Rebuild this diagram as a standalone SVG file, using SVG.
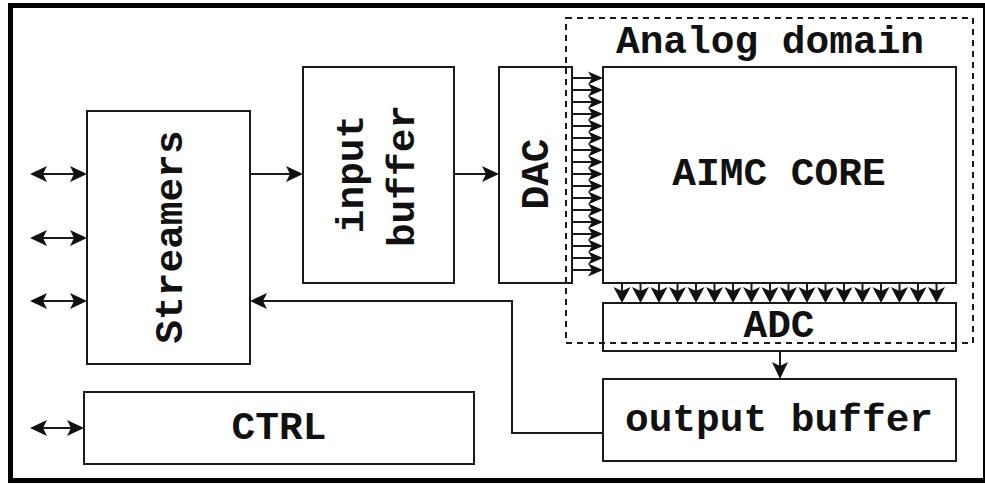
<svg xmlns="http://www.w3.org/2000/svg" xmlns:xlink="http://www.w3.org/1999/xlink" width="985" height="485" viewBox="0 0 985 485">
<style>
.box{fill:#fff;stroke:#1a1a1a;stroke-width:2}
.ln{fill:none;stroke:#1a1a1a;stroke-width:2}
.hd{fill:#111;stroke:none}
.lb{font-family:"Liberation Mono","Courier New",monospace;font-weight:bold;font-size:39.5px;fill:#111;text-anchor:middle}
</style>
<defs>
<path id="hr" d="M0,0 L-17,-8 L-13,0 L-17,8 Z"/>
<path id="hl" d="M0,0 L17,-8 L13,0 L17,8 Z"/>
<path id="hd" d="M0,0 L-8,-17 L0,-13 L8,-17 Z"/>
<path id="sh" d="M0,0 L-15,-6.5 L-11,0 L-15,6.5 Z"/>
<path id="sv" d="M0,0 L-8.5,-16 L0,-12 L8.5,-16 Z"/>
</defs>
<rect x="10.5" y="5.5" width="975" height="475" fill="#fff" stroke="#000" stroke-width="5"/>
<text class="lb" x="770" y="53">Analog domain</text>
<g id="streamers"><rect class="box" x="87" y="111" width="163" height="253"/><text class="lb" transform="translate(182,237) rotate(-90)">Streamers</text></g>
<g id="input-buffer"><rect class="box" x="303" y="67" width="151" height="216"/><text class="lb" transform="translate(363,174) rotate(-90)">input</text><text class="lb" transform="translate(414,176) rotate(-90)">buffer</text></g>
<g id="dac"><rect class="box" x="499" y="67" width="73" height="216"/><text class="lb" transform="translate(548,174) rotate(-90)">DAC</text></g>
<g id="aimc-core"><rect class="box" x="603" y="67" width="353" height="216"/><text class="lb" x="779" y="185">AIMC CORE</text></g>
<g id="adc"><rect class="box" x="603" y="303" width="353" height="48"/><text class="lb" x="779" y="337">ADC</text></g>
<g id="output-buffer"><rect class="box" x="603" y="379" width="353" height="82"/><text class="lb" x="779" y="431">output buffer</text></g>
<g id="ctrl"><rect class="box" x="84" y="392" width="390" height="72"/><text class="lb" x="279" y="439">CTRL</text></g>
<g id="analog-domain"><rect x="566" y="18" width="407" height="325" fill="none" stroke="#1a1a1a" stroke-width="2" stroke-dasharray="6 5"/></g>
<g id="connectors">
<path class="ln" d="M32,174 H85 M32,238 H85 M32,301 H85 M32,428 H82"/>
<g class="hd">
<use xlink:href="#hl" x="30" y="174"/><use xlink:href="#hr" x="87" y="174"/>
<use xlink:href="#hl" x="30" y="238"/><use xlink:href="#hr" x="87" y="238"/>
<use xlink:href="#hl" x="30" y="301"/><use xlink:href="#hr" x="87" y="301"/>
<use xlink:href="#hl" x="30" y="428"/><use xlink:href="#hr" x="84" y="428"/>
</g>
<path class="ln" d="M250,174 H300"/><use class="hd" xlink:href="#hr" x="303" y="174"/>
<path class="ln" d="M454,174 H496"/><use class="hd" xlink:href="#hr" x="499" y="174"/>
<path class="ln" d="M603,433 H512 V301 H253"/><use class="hd" xlink:href="#hl" x="250" y="301"/>
<path class="ln" d="M780,351 V376"/><use class="hd" xlink:href="#hd" x="780" y="379"/>
<path class="ln" d="M572,78 H595 M572,90 H595 M572,102 H595 M572,114 H595 M572,126 H595 M572,138 H595 M572,150 H595 M572,162 H595 M572,174 H595 M572,186 H595 M572,198 H595 M572,210 H595 M572,222 H595 M572,234 H595 M572,246 H595 M572,258 H595 M572,270 H595"/>
<g class="hd">
<use xlink:href="#sh" x="603" y="78"/><use xlink:href="#sh" x="603" y="90"/><use xlink:href="#sh" x="603" y="102"/><use xlink:href="#sh" x="603" y="114"/><use xlink:href="#sh" x="603" y="126"/><use xlink:href="#sh" x="603" y="138"/><use xlink:href="#sh" x="603" y="150"/><use xlink:href="#sh" x="603" y="162"/><use xlink:href="#sh" x="603" y="174"/><use xlink:href="#sh" x="603" y="186"/><use xlink:href="#sh" x="603" y="198"/><use xlink:href="#sh" x="603" y="210"/><use xlink:href="#sh" x="603" y="222"/><use xlink:href="#sh" x="603" y="234"/><use xlink:href="#sh" x="603" y="246"/><use xlink:href="#sh" x="603" y="258"/><use xlink:href="#sh" x="603" y="270"/>
</g>
<path class="ln" d="M622,283 V295 M640.5,283 V295 M659,283 V295 M677.5,283 V295 M696,283 V295 M714.5,283 V295 M733,283 V295 M751.5,283 V295 M770,283 V295 M788.5,283 V295 M807,283 V295 M825.5,283 V295 M844,283 V295 M862.5,283 V295 M881,283 V295 M899.5,283 V295 M918,283 V295 M936.5,283 V295"/>
<g class="hd">
<use xlink:href="#sv" x="622" y="303"/><use xlink:href="#sv" x="640.5" y="303"/><use xlink:href="#sv" x="659" y="303"/><use xlink:href="#sv" x="677.5" y="303"/><use xlink:href="#sv" x="696" y="303"/><use xlink:href="#sv" x="714.5" y="303"/><use xlink:href="#sv" x="733" y="303"/><use xlink:href="#sv" x="751.5" y="303"/><use xlink:href="#sv" x="770" y="303"/><use xlink:href="#sv" x="788.5" y="303"/><use xlink:href="#sv" x="807" y="303"/><use xlink:href="#sv" x="825.5" y="303"/><use xlink:href="#sv" x="844" y="303"/><use xlink:href="#sv" x="862.5" y="303"/><use xlink:href="#sv" x="881" y="303"/><use xlink:href="#sv" x="899.5" y="303"/><use xlink:href="#sv" x="918" y="303"/><use xlink:href="#sv" x="936.5" y="303"/>
</g>
</g>
</svg>
